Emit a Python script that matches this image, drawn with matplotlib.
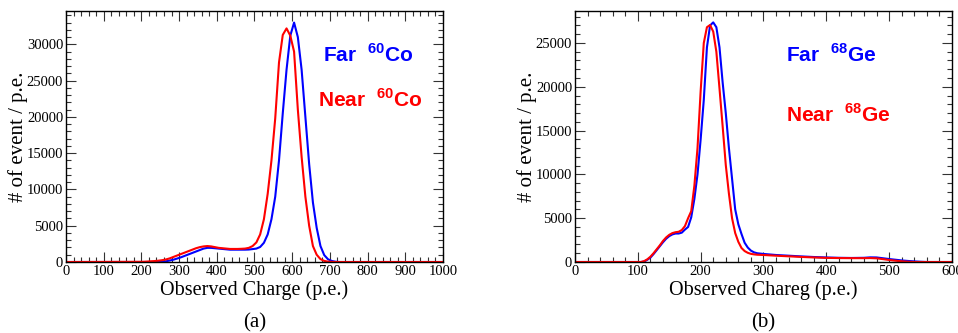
import matplotlib
matplotlib.use('Agg')
import matplotlib.pyplot as plt
from matplotlib.ticker import MultipleLocator

plt.rcParams['font.family'] = 'Liberation Serif'
plt.rcParams['mathtext.fontset'] = 'custom'
plt.rcParams['mathtext.rm'] = 'Liberation Sans'
plt.rcParams['mathtext.bf'] = 'Liberation Sans:bold'

# (a) 60Co spectra
co_x = [0, 205, 215, 225, 235, 245, 255, 265, 275, 285, 295, 305, 315, 325, 335,
        345, 355, 365, 375, 385, 395, 405, 415, 425, 435, 445, 455, 465, 475,
        485, 495, 505, 515, 525, 535, 545, 555, 565, 575, 585, 595, 605, 615,
        625, 635, 645, 655, 665, 675, 685, 695, 705, 715, 725, 1000]
co_far = [0, 0, 0, 0, 0, 0, 50, 100, 200, 320, 480, 650, 850, 1050, 1250,
          1450, 1650, 1850, 1950, 1950, 1900, 1850, 1800, 1750, 1700, 1700, 1700, 1700, 1700,
          1720, 1780, 1850, 2070, 2650, 3800, 5900, 9000, 14000, 20500, 26500, 31200, 33000, 31000,
          26500, 20000, 13500, 8200, 4700, 2200, 950, 380, 140, 40, 0, 0]
co_near = [0, 30, 60, 100, 130, 180, 250, 350, 500, 700, 900, 1100, 1300, 1500, 1700,
           1900, 2050, 2150, 2200, 2150, 2050, 1950, 1900, 1850, 1800, 1800, 1800, 1820, 1850,
           1950, 2200, 2700, 3800, 5900, 9400, 14000, 19800, 27500, 31300, 32200, 31200, 29000, 21000,
           14500, 9000, 5000, 2200, 1000, 400, 150, 50, 20, 0, 0, 0]

# (b) 68Ge spectra
ge_x = [0, 100, 105, 110, 115, 120, 125, 130, 135, 140, 145, 150, 155, 160, 165,
        170, 175, 180, 185, 190, 195, 200, 205, 210, 215, 220, 225, 230, 235,
        240, 245, 250, 255, 260, 265, 270, 275, 280, 285, 290, 300, 320, 340,
        360, 380, 400, 420, 440, 460, 470, 480, 490, 500, 510, 520, 530, 540,
        550, 560, 600]
ge_far = [0, 0, 0, 50, 250, 500, 900, 1350, 1800, 2250, 2650, 2950, 3150, 3250, 3250,
          3350, 3700, 4000, 5100, 7200, 10000, 14000, 18500, 24500, 27000, 27350, 26800, 24500, 20500,
          17000, 13000, 9500, 6000, 4300, 3200, 2200, 1650, 1300, 1100, 1000, 920, 800, 720,
          640, 570, 520, 480, 460, 480, 530, 520, 430, 340, 260, 180, 120, 70,
          30, 0, 0]
ge_near = [0, 0, 0, 100, 300, 600, 1000, 1450, 1900, 2400, 2800, 3100, 3300, 3400, 3450,
           3650, 4100, 5000, 5800, 8700, 13000, 19500, 25000, 26800, 27050, 26300, 24000, 19800, 15500,
           11070, 7800, 5000, 3300, 2300, 1600, 1250, 1050, 930, 870, 830, 800, 720, 650,
           580, 520, 470, 450, 440, 440, 450, 420, 330, 230, 150, 80, 30, 0,
           0, 0, 0]

fig = plt.figure(figsize=(9.58, 3.33), dpi=100)

panels = [
    dict(rect=[0.0689, 0.2132, 0.3935, 0.7538], x=co_x, far=co_far, near=co_near,
         xlim=1000, ylim=34600, xlabel='Observed Charge (p.e.)', tag='(a)', iso='60', el='Co',
         far_x=0.682, near_x=0.668, far_y=0.797, near_y=0.617),
    dict(rect=[0.6002, 0.2132, 0.3935, 0.7538], x=ge_x, far=ge_far, near=ge_near,
         xlim=600, ylim=28650, xlabel='Observed Chareg (p.e.)', tag='(b)', iso='68', el='Ge',
         far_x=0.56, near_x=0.561, far_y=0.797, near_y=0.559),
]

for p in panels:
    ax = fig.add_axes(p['rect'])
    ax.plot(p['x'], p['far'], color='#0000ff', lw=1.5)
    ax.plot(p['x'], p['near'], color='#ff0000', lw=1.5)
    ax.set_xlim(0, p['xlim'])
    ax.set_ylim(0, p['ylim'])
    ax.xaxis.set_major_locator(MultipleLocator(100))
    ax.xaxis.set_minor_locator(MultipleLocator(20))
    ax.yaxis.set_major_locator(MultipleLocator(5000))
    ax.yaxis.set_minor_locator(MultipleLocator(1000))
    ax.tick_params(which='both', direction='in', top=True, right=True,
                   labelsize=10.5, color='#333333')
    ax.tick_params(which='major', length=7, width=0.8, pad=2)
    ax.tick_params(which='minor', length=3.5, width=0.8)
    for s in ax.spines.values():
        s.set_linewidth(1.0)
    ax.set_xlabel(p['xlabel'], fontsize=14.5, labelpad=2)
    ax.set_ylabel('# of event / p.e.', fontsize=15, labelpad=-1)
    ax.text(0.5, -0.26, p['tag'], transform=ax.transAxes, ha='center', va='baseline',
            fontsize=15)
    ax.text(p['far_x'], p['far_y'], 'Far  $^{\\mathbf{%s}}$%s' % (p['iso'], p['el']),
            transform=ax.transAxes, color='#0000ff', fontsize=15,
            fontweight='bold', family='Liberation Sans')
    ax.text(p['near_x'], p['near_y'], 'Near  $^{\\mathbf{%s}}$%s' % (p['iso'], p['el']),
            transform=ax.transAxes, color='#ff0000', fontsize=15,
            fontweight='bold', family='Liberation Sans')

fig.savefig('out.png', dpi=100)
